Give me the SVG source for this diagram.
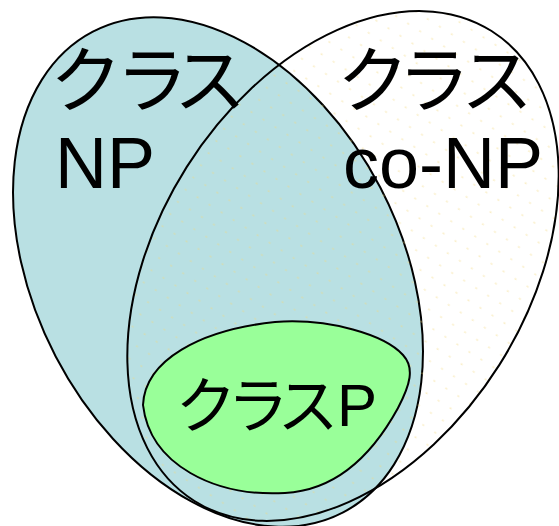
<svg xmlns="http://www.w3.org/2000/svg" width="559" height="526" viewBox="0 0 559 526">
  <defs>
    <pattern id="dots" patternUnits="userSpaceOnUse" width="14.4" height="14.2">
      <rect x="6" y="6" width="1.2" height="2" fill="#f2d77a" opacity="0.55"/>
    </pattern>
    <style>
      .set { stroke: #000; stroke-width: 2; }
      .ja { font-family: "Noto Sans CJK JP", "Liberation Sans", sans-serif; fill: #000; }
      .lat { font-family: "Liberation Sans", Arial, sans-serif; fill: #000; }
    </style>
  </defs>
  <rect width="559" height="526" fill="#ffffff"/>
  <g id="node-np">
    <ellipse class="set" cx="218" cy="272" rx="271" ry="183" transform="rotate(62.5 218 272)" fill="#b9e0e3"/>
  </g>
  <g id="node-conp">
    <ellipse class="set" cx="343" cy="266" rx="278" ry="185" transform="rotate(-57.7 343 266)" fill="url(#dots)"/>
  </g>
  <g id="node-p">
    <path class="set" fill="#99ff99" d="M143,405 C145,360 200,330 275,322 C330,318 385,335 403,355 C415,368 410,385 398,408 C375,450 340,490 285,493 C215,497 150,465 143,405 Z"/>
  </g>
  <g id="labels">
    <text class="ja" font-size="72" text-anchor="middle" x="86 152 210" y="106">クラス</text>
    <text class="lat" font-size="72" x="55" y="188">NP</text>
    <text class="ja" font-size="72" text-anchor="middle" x="373 434 497" y="106">クラス</text>
    <text class="lat" font-size="72" x="343" y="188">co-NP</text>
    <text class="ja" font-size="61" text-anchor="middle" x="206 258 308" y="428">クラス</text>
    <text class="lat" font-size="60" x="337" y="426">P</text>
  </g>
  <g id="connectors"></g>
</svg>
